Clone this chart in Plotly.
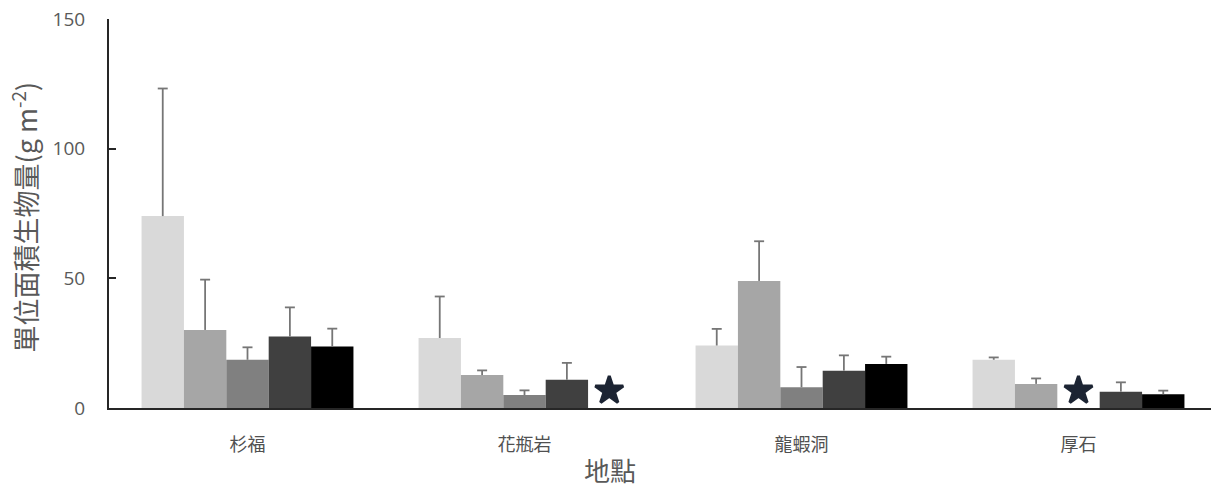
import plotly.graph_objects as go

# Sampling sites (x categories)
sites = ["杉福", "花瓶岩", "龍蝦洞", "厚石"]

# Biomass per unit area (g m-2) for the five groups at each site; None = no sample
group1 = [74.0, 27.0, 24.1, 18.6]
group2 = [30.1, 12.7, 49.0, 9.3]
group3 = [18.6, 5.0, 8.0, None]
group4 = [27.6, 10.9, 14.4, 6.3]
group5 = [23.7, None, 17.0, 5.3]

# Upper error (SD) for each bar
err1 = [49.2, 16.0, 6.4, 0.9]
err2 = [19.4, 1.8, 15.3, 2.1]
err3 = [4.8, 1.8, 7.8, None]
err4 = [11.2, 6.5, 5.9, 3.6]
err5 = [6.9, None, 2.8, 1.4]

y_ticks = [0, 50, 100, 150]

series = [group1, group2, group3, group4, group5]
errors = [err1, err2, err3, err4, err5]
colors = ["#d9d9d9", "#a6a6a6", "#808080", "#404040", "#000000"]

BARGAP = 0.235
CAP_HALF = 0.018          # half width of an error-bar cap, in category units
STAR_Y = 6.7
STAR_COLOR = "#1c2433"
ERR_COLOR = "#767676"
FONT = "Open Sans, Noto Sans CJK TC, sans-serif"
CJK = "Noto Sans CJK TC, sans-serif"

x_idx = list(range(len(sites)))
n = len(series)
bar_w = (1 - BARGAP) / n


def bar_center(site_i, series_i):
    return site_i + (series_i - (n - 1) / 2) * bar_w


fig = go.Figure()
for i, (vals, col) in enumerate(zip(series, colors)):
    fig.add_trace(go.Bar(
        x=x_idx,
        y=vals,
        name=f"組別{i + 1}",
        marker=dict(color=col, line=dict(width=0)),
        showlegend=False,
    ))

# Upper-only error bars: stem from bar top up to mean + SD, capped at the top
ex, ey = [], []
for i, (vals, errs) in enumerate(zip(series, errors)):
    for j, (v, e) in enumerate(zip(vals, errs)):
        if v is None or e is None:
            continue
        c = bar_center(j, i)
        ex += [c, c, None, c - CAP_HALF, c + CAP_HALF, None]
        ey += [v, v + e, None, v + e, v + e, None]
fig.add_trace(go.Scatter(
    x=ex, y=ey, mode="lines",
    line=dict(color=ERR_COLOR, width=1.8),
    showlegend=False, hoverinfo="skip",
))

# Star marks where a group has no sample at a site
star_x = []
for i, vals in enumerate(series):
    for j, v in enumerate(vals):
        if v is None:
            star_x.append(bar_center(j, i))
fig.add_trace(go.Scatter(
    x=star_x,
    y=[STAR_Y] * len(star_x),
    mode="markers",
    marker=dict(symbol="star", size=21, color=STAR_COLOR,
                line=dict(color=STAR_COLOR, width=3)),
    showlegend=False,
    hoverinfo="skip",
))

plot_left, plot_right = 109, 1211
cat_px = 277
x_range = [-0.5, -0.5 + (plot_right - plot_left) / cat_px]

fig.update_layout(
    width=1211,
    height=488,
    margin=dict(l=plot_left, r=1211 - plot_right, t=19, b=80),
    paper_bgcolor="white",
    plot_bgcolor="white",
    barmode="group",
    bargap=BARGAP,
    bargroupgap=0,
    font=dict(family=FONT, color="#595959"),
    xaxis=dict(
        range=x_range,
        tickmode="array",
        tickvals=x_idx,
        ticktext=sites,
        tickfont=dict(family=CJK, size=18, color="#505050"),
        showgrid=False,
        zeroline=False,
        showline=True,
        linecolor="#262626",
        linewidth=2,
        ticks="",
        ticklabelstandoff=19,
    ),
    yaxis=dict(
        range=[0, 150],
        tickvals=y_ticks,
        tickfont=dict(family=FONT, size=19, color="#595959"),
        showgrid=False,
        zeroline=False,
        showline=True,
        linecolor="#262626",
        linewidth=2,
        ticks="inside",
        ticklen=7,
        tickwidth=2,
        tickcolor="#262626",
        ticklabelstandoff=18,
    ),
    annotations=[
        dict(
            text="地點",
            xref="paper", yref="paper",
            x=(610 - plot_left) / (plot_right - plot_left), y=-0.158,
            xanchor="center", yanchor="middle",
            showarrow=False,
            font=dict(family=CJK, size=26, color="#595959"),
        ),
        dict(
            text="單位面積生物量(g m<sup>-2</sup>)",
            xref="paper", yref="paper",
            x=(24 - plot_left) / (plot_right - plot_left), y=0.49,
            xanchor="center", yanchor="middle",
            textangle=-90,
            showarrow=False,
            font=dict(family=CJK, size=27, color="#595959"),
        ),
    ],
)

fig.write_html("out.html")
